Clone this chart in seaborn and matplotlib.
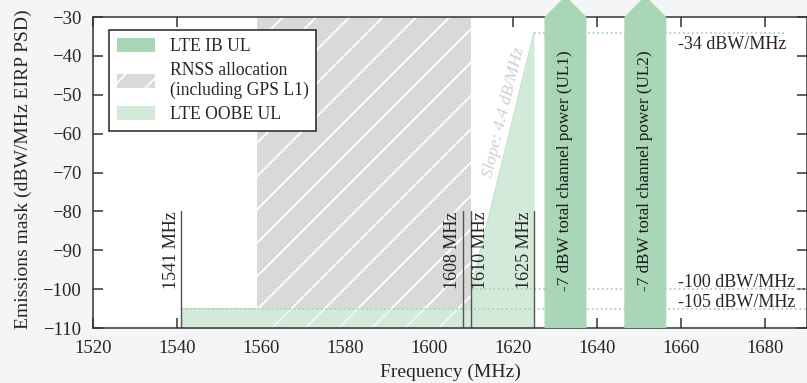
import numpy as np
import pandas as pd
import matplotlib
matplotlib.use("Agg")
import matplotlib.pyplot as plt
import seaborn as sns
from matplotlib.patches import Patch

# ---- data ----
rnss_band = [1559, 1610]                 # MHz
oobe_x = [1541, 1610, 1610, 1625]        # LTE OOBE UL mask corners
oobe_y = [-105, -105, -100, -34]
ul_lo = [1627.5, 1646.5]                 # LTE IB UL channels
ul_hi = [1637.5, 1656.5]
ul_labels = ["-7 dBW total channel power (UL1)", "-7 dBW total channel power (UL2)"]
marker_freqs = [1541, 1608, 1610, 1625]
marker_labels = ["1541 MHz", "1608 MHz", "1610 MHz", "1625 MHz"]
marker_side = ["left", "left", "right", "left"]
levels = [-34, -100, -105]
level_start = [1625, 1610, 1541]
level_end = [1685, 1690, 1690]
level_labels = ["-34 dBW/MHz", "-100 dBW/MHz", "-105 dBW/MHz"]
slope_db_per_mhz = 4.4

x_ticks = list(range(1520, 1700, 20))
y_ticks = list(range(-110, -20, 10))

# ---- style ----
sns.set_style("ticks")
plt.rcParams["font.family"] = ["Liberation Serif", "DejaVu Serif"]
plt.rcParams["hatch.linewidth"] = 1.3
plt.rcParams["axes.unicode_minus"] = True

ib_green = "#a9d6b6"
oobe_green = "#d3eadb"
grey = "#d9d9d9"
bg = "#f4f5f7"

fig = plt.figure(figsize=(8.07, 3.83), dpi=100, facecolor=bg)
ax = fig.add_axes([0.1152, 0.1436, 0.8848, 0.812])
ax.set_facecolor("white")
ax.set_xlim(1520, 1690)
ax.set_ylim(-110, -30)
ymin, ymax = ax.get_ylim()

# LTE OOBE UL mask
ax.fill_between(oobe_x, oobe_y, ymin, color=oobe_green, lw=0, zorder=1)
ax.plot(oobe_x, oobe_y, color="#b9dec4", lw=0.8, zorder=1)

# RNSS allocation (grey hatched), hatch fainter over the OOBE band
ax.fill_between(rnss_band, oobe_y[0], ymax, color=grey, lw=0, zorder=1.5)
ax.fill_between(rnss_band, oobe_y[0], ymax, facecolor="none", edgecolor="white",
                hatch="/", lw=0, zorder=1.6)
ax.fill_between(rnss_band, ymin, oobe_y[0], facecolor="none", edgecolor="white",
                hatch="/", lw=0, alpha=0.6, zorder=1.6)

# dotted level lines
for lvl, x0, x1 in zip(levels, level_start, level_end):
    sns.lineplot(x=[x0, x1], y=[lvl, lvl], ax=ax, color=ib_green, lw=1.3,
                 linestyle=(0, (1, 1.5)), zorder=2)

# level annotations
for lvl, lab in zip(levels, level_labels):
    off = -4.2 if lvl == levels[0] else 0.5
    ax.text(1659.3, lvl + off, lab, fontsize=13, ha="left", va="baseline", zorder=5)

# vertical frequency markers
for f, lab, side in zip(marker_freqs, marker_labels, marker_side):
    ax.plot([f, f], [ymin, -80], color="#555555", lw=1.0, zorder=3)
    dx = -0.35 if side == "left" else 0.35
    ax.text(f + dx, -80, lab, rotation=90, fontsize=13,
            ha="right" if side == "left" else "left", va="top", zorder=5)

# slope annotation
ax.text(1617.8, -54.5, "Slope: %.1f dB/MHz" % slope_db_per_mhz, fontsize=12.5,
        style="italic", color="#cfcfcf", rotation=np.degrees(np.arctan(slope_db_per_mhz)),
        transform_rotates_text=True, rotation_mode="anchor", ha="center", va="center",
        zorder=2)

# LTE IB UL channels as upward arrows
for lo, hi, lab in zip(ul_lo, ul_hi, ul_labels):
    mid = (lo + hi) / 2
    head = (hi - lo) / 2 * 4.205 / 3.89  # 45 degree head in screen space
    ax.fill([lo, lo, mid, hi, hi], [ymin, ymax, ymax + head, ymax, ymin],
            color=ib_green, lw=0, zorder=4, clip_on=False)
    ax.text(mid, -69.5, lab, rotation=90, fontsize=12.3, ha="center", va="center",
            color="#1a1a1a", zorder=5)

# axes cosmetics
ax.set_xticks(x_ticks)
ax.set_yticks(y_ticks)
ax.tick_params(direction="in", top=True, right=True, length=7.5, width=1.1,
               labelsize=13.5, pad=8.5, color="#333333")
for s in ax.spines.values():
    s.set_linewidth(1.1)
    s.set_color("#333333")
    s.set_zorder(3.5)
ax.set_xlabel("Frequency (MHz)", fontsize=14, labelpad=5)
ax.set_ylabel("Emissions mask (dBW/MHz EIRP PSD)", fontsize=14)
ax.yaxis.set_label_coords(-0.086, 0.51)

handles = [
    Patch(facecolor=ib_green, edgecolor="none", label="LTE IB UL"),
    Patch(facecolor=grey, edgecolor="white", hatch="/", lw=0,
          label="RNSS allocation\n(including GPS L1)"),
    Patch(facecolor=oobe_green, edgecolor="none", label="LTE OOBE UL"),
]
leg = ax.legend(handles=handles, loc="upper left", bbox_to_anchor=(0.022, 0.958),
                borderaxespad=0, fontsize=12.7, frameon=True, fancybox=False,
                framealpha=1, edgecolor="#222222", handlelength=2.2,
                handleheight=0.8, labelspacing=0.4, borderpad=0.45)
leg.get_frame().set_linewidth(1.1)
leg.set_zorder(6)

fig.savefig("out.png", dpi=100, facecolor=bg)
